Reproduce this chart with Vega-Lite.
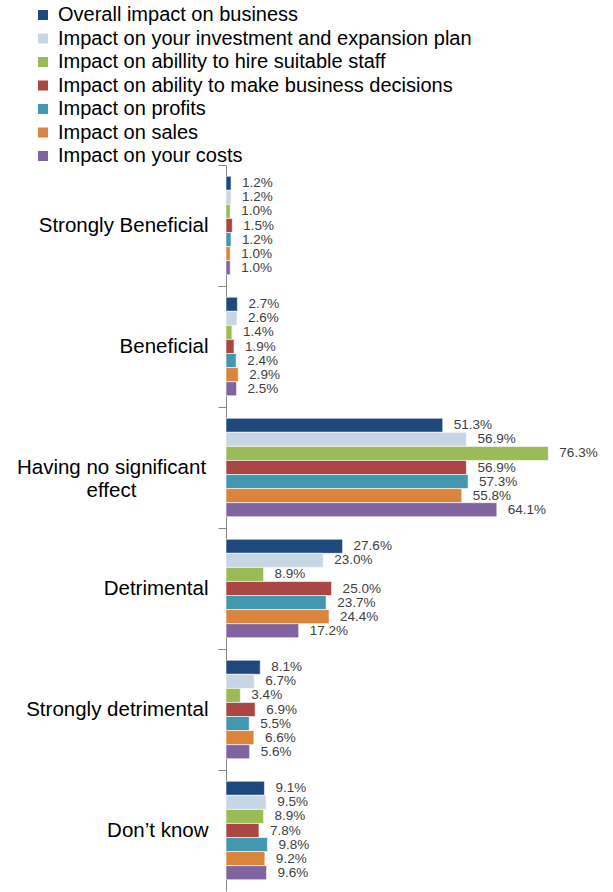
{
  "$schema": "https://vega.github.io/schema/vega-lite/v6.json",
  "autosize": {"type": "none"},
  "width": 387,
  "height": 726,
  "padding": {"left": 226, "top": 165, "right": 0, "bottom": 1},
  "background": "white",
  "config": {"view": {"stroke": null}, "font": "Liberation Sans"},
  "data": {"values": [
    {"cat": "Strongly Beneficial", "series": "Overall impact on business", "v": 1.2},
    {"cat": "Strongly Beneficial", "series": "Impact on your investment and expansion plan", "v": 1.2},
    {"cat": "Strongly Beneficial", "series": "Impact on abillity to hire suitable staff", "v": 1.0},
    {"cat": "Strongly Beneficial", "series": "Impact on ability to make business decisions", "v": 1.5},
    {"cat": "Strongly Beneficial", "series": "Impact on profits", "v": 1.2},
    {"cat": "Strongly Beneficial", "series": "Impact on sales", "v": 1.0},
    {"cat": "Strongly Beneficial", "series": "Impact on your costs", "v": 1.0},
    {"cat": "Beneficial", "series": "Overall impact on business", "v": 2.7},
    {"cat": "Beneficial", "series": "Impact on your investment and expansion plan", "v": 2.6},
    {"cat": "Beneficial", "series": "Impact on abillity to hire suitable staff", "v": 1.4},
    {"cat": "Beneficial", "series": "Impact on ability to make business decisions", "v": 1.9},
    {"cat": "Beneficial", "series": "Impact on profits", "v": 2.4},
    {"cat": "Beneficial", "series": "Impact on sales", "v": 2.9},
    {"cat": "Beneficial", "series": "Impact on your costs", "v": 2.5},
    {"cat": "Having no significant effect", "series": "Overall impact on business", "v": 51.3},
    {"cat": "Having no significant effect", "series": "Impact on your investment and expansion plan", "v": 56.9},
    {"cat": "Having no significant effect", "series": "Impact on abillity to hire suitable staff", "v": 76.3},
    {"cat": "Having no significant effect", "series": "Impact on ability to make business decisions", "v": 56.9},
    {"cat": "Having no significant effect", "series": "Impact on profits", "v": 57.3},
    {"cat": "Having no significant effect", "series": "Impact on sales", "v": 55.8},
    {"cat": "Having no significant effect", "series": "Impact on your costs", "v": 64.1},
    {"cat": "Detrimental", "series": "Overall impact on business", "v": 27.6},
    {"cat": "Detrimental", "series": "Impact on your investment and expansion plan", "v": 23.0},
    {"cat": "Detrimental", "series": "Impact on abillity to hire suitable staff", "v": 8.9},
    {"cat": "Detrimental", "series": "Impact on ability to make business decisions", "v": 25.0},
    {"cat": "Detrimental", "series": "Impact on profits", "v": 23.7},
    {"cat": "Detrimental", "series": "Impact on sales", "v": 24.4},
    {"cat": "Detrimental", "series": "Impact on your costs", "v": 17.2},
    {"cat": "Strongly detrimental", "series": "Overall impact on business", "v": 8.1},
    {"cat": "Strongly detrimental", "series": "Impact on your investment and expansion plan", "v": 6.7},
    {"cat": "Strongly detrimental", "series": "Impact on abillity to hire suitable staff", "v": 3.4},
    {"cat": "Strongly detrimental", "series": "Impact on ability to make business decisions", "v": 6.9},
    {"cat": "Strongly detrimental", "series": "Impact on profits", "v": 5.5},
    {"cat": "Strongly detrimental", "series": "Impact on sales", "v": 6.6},
    {"cat": "Strongly detrimental", "series": "Impact on your costs", "v": 5.6},
    {"cat": "Don’t know", "series": "Overall impact on business", "v": 9.1},
    {"cat": "Don’t know", "series": "Impact on your investment and expansion plan", "v": 9.5},
    {"cat": "Don’t know", "series": "Impact on abillity to hire suitable staff", "v": 8.9},
    {"cat": "Don’t know", "series": "Impact on ability to make business decisions", "v": 7.8},
    {"cat": "Don’t know", "series": "Impact on profits", "v": 9.8},
    {"cat": "Don’t know", "series": "Impact on sales", "v": 9.2},
    {"cat": "Don’t know", "series": "Impact on your costs", "v": 9.6}
  ]},
  "encoding": {
    "y": {
      "field": "cat", "type": "nominal", "sort": null,
      "scale": {"paddingInner": 0, "paddingOuter": 0},
      "axis": {
        "title": null, "bandPosition": 0, "domainColor": "#868686", "tickColor": "#868686",
        "tickSize": 8, "labelFontSize": 20.5, "labelColor": "#000000",
        "labelFont": "Liberation Sans", "labelLimit": 300, "labelLineHeight": 23,
        "labelAlign": {"condition": {"test": "datum.value == 'Having no significant effect'", "value": "center"}, "value": "right"},
        "labelPadding": {"condition": {"test": "datum.value == 'Having no significant effect'", "value": 107}, "value": 10},
        "labelExpr": "datum.value == 'Having no significant effect' ? ['Having no significant', 'effect'] : datum.value"
      }
    },
    "yOffset": {
      "field": "series", "type": "nominal", "sort": null,
      "scale": {"paddingOuter": 0.8, "paddingInner": 0}
    },
    "x": {"field": "v", "type": "quantitative", "scale": {"domain": [0, 91.6], "nice": false}, "axis": null}
  },
  "layer": [
    {
      "mark": {"type": "bar", "stroke": "white", "strokeWidth": 0.6},
      "encoding": {
        "color": {
          "field": "series", "type": "nominal", "sort": null,
          "scale": {
            "domain": ["Overall impact on business", "Impact on your investment and expansion plan", "Impact on abillity to hire suitable staff", "Impact on ability to make business decisions", "Impact on profits", "Impact on sales", "Impact on your costs"],
            "range": ["#1F497D", "#C6D6E4", "#9BBB59", "#AA4643", "#4198AF", "#DB843D", "#80649F"]
          },
          "legend": {
            "title": null, "orient": "none", "legendX": -193, "legendY": -160,
            "symbolType": "square", "symbolSize": 100, "symbolStrokeWidth": 0,
            "labelFontSize": 20, "labelColor": "#000000", "labelFont": "Liberation Sans",
            "labelLimit": 500, "rowPadding": 3.5, "labelOffset": 5
          }
        }
      }
    },
    {
      "mark": {"type": "text", "align": "left", "baseline": "middle", "dx": 11, "fontSize": 13.5, "color": "#404040", "font": "Liberation Sans",
        "text": {"expr": "format(datum.v, '.1f') + '%'"}},
      "encoding": {
        "detail": {"field": "series"}
      }
    }
  ]
}
